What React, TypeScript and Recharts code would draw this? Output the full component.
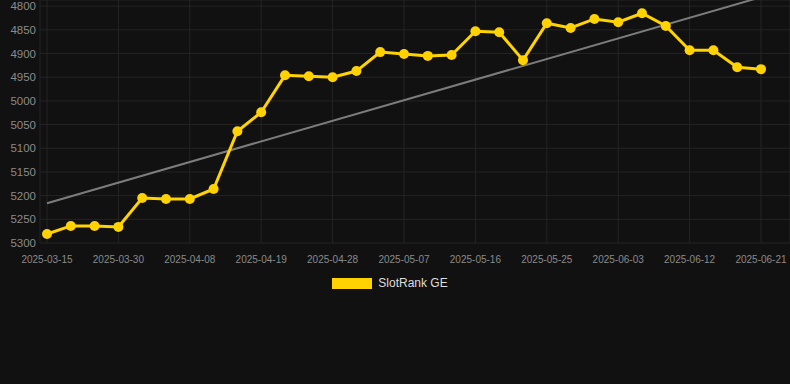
import React from "react";
import { LineChart, Line, XAxis, YAxis, CartesianGrid, Legend } from "recharts";

const dates = [
  "2025-03-15", "2025-03-20", "2025-03-25", "2025-03-30", "2025-04-02", "2025-04-05",
  "2025-04-08", "2025-04-12", "2025-04-15", "2025-04-19", "2025-04-22", "2025-04-25",
  "2025-04-28", "2025-05-01", "2025-05-04", "2025-05-07", "2025-05-10", "2025-05-13",
  "2025-05-16", "2025-05-19", "2025-05-22", "2025-05-25", "2025-05-28", "2025-05-31",
  "2025-06-03", "2025-06-06", "2025-06-09", "2025-06-12", "2025-06-15", "2025-06-18",
  "2025-06-21",
];

const rankValues = [
  5281, 5264, 5264, 5266, 5205, 5207, 5207, 5186, 5064, 5024,
  4946, 4948, 4950, 4937, 4897, 4901, 4905, 4903, 4853, 4855,
  4914, 4836, 4846, 4827, 4834, 4815, 4842, 4893, 4893, 4929,
  4933,
];

const trendStart = 5216;
const trendEnd = 4781;

const yTicks = [4800, 4850, 4900, 4950, 5000, 5050, 5100, 5150, 5200, 5250, 5300];
const seriesName = "SlotRank GE";

const data = dates.map((d, i) => ({
  date: d,
  rank: rankValues[i],
  trend: i === 0 ? trendStart : i === dates.length - 1 ? trendEnd : null,
}));

const YELLOW = "#FFD200";
const FONT = "'Liberation Sans', Arial, sans-serif";

const LegendContent = () => (
  <div
    style={{
      height: 20,
      display: "flex",
      alignItems: "center",
      justifyContent: "center",
      fontFamily: FONT,
      fontSize: 12,
      color: "#dddddd",
      paddingRight: 10,
    }}
  >
    <div style={{ width: 40, height: 11, background: YELLOW, marginRight: 6 }} />
    <span>{seriesName}</span>
  </div>
);

export default function App() {
  return (
    <div
      style={{
        position: "absolute",
        left: 0,
        top: 0,
        width: 790,
        height: 384,
        background: "#111111",
      }}
    >
      <LineChart
        width={790}
        height={300}
        data={data}
        margin={{ top: 0, right: 0, bottom: 7, left: 0 }}
      >
        <CartesianGrid stroke="#242424" strokeWidth={1} />
        <XAxis
          dataKey="date"
          interval={2}
          tickLine={false}
          axisLine={false}
          tickSize={0}
          tickMargin={13}
          padding={{ left: 7, right: 29 }}
          tick={{ fill: "#8a8a8a", fontSize: 10, fontFamily: FONT }}
          height={30}
        />
        <YAxis
          reversed
          domain={[4787, 5300]}
          allowDataOverflow
          ticks={yTicks}
          interval={0}
          width={40}
          tickLine={false}
          axisLine={false}
          tickSize={4}
          tickMargin={0}
          tick={{ fill: "#8a8a8a", fontSize: 11.5, fontFamily: FONT }}
        />
        <Legend verticalAlign="bottom" content={<LegendContent />} />
        <Line
          dataKey="trend"
          stroke="#7c7c7c"
          strokeWidth={2}
          dot={false}
          connectNulls
          isAnimationActive={false}
          legendType="none"
        />
        <Line
          dataKey="rank"
          name={seriesName}
          stroke={YELLOW}
          strokeWidth={3}
          dot={{ r: 5, fill: YELLOW, stroke: YELLOW, strokeWidth: 0 }}
          isAnimationActive={false}
        />
      </LineChart>
    </div>
  );
}
